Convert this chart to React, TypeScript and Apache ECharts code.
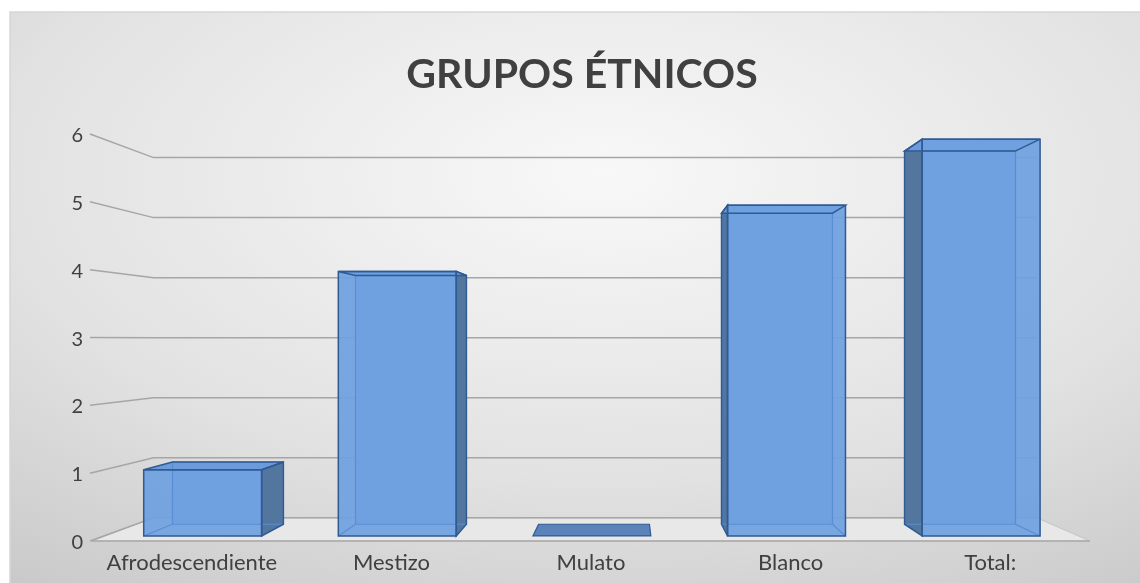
import React, { useEffect, useRef } from "react";
import * as echarts from "echarts";

const categories = ["Afrodescendiente", "Mestizo", "Mulato", "Blanco", "Total:"];
const values = [1, 4, 0, 5, 6];
const yTicks = [0, 1, 2, 3, 4, 5, 6];
const titleText = "GRUPOS ÉTNICOS";

// perspective settings (fractions of the grid)
const VP_X = 0.536;
const VP_Y = 0.504;
const BACK_WALL = 0.885;
const BAR_FRONT = 0.975;
const BAR_BACK = 0.917;
const BAR_HALF = 0.303;

export default function App() {
  const ref = useRef<HTMLDivElement>(null);
  useEffect(() => {
    if (!ref.current) return;
    const chart = echarts.init(ref.current, null, { renderer: "svg" });

    const vp = (cs: any) => [cs.x + VP_X * cs.width, cs.y + VP_Y * cs.height];
    const proj = (v: number[], x: number, y: number, f: number) => [
      v[0] + (x - v[0]) * f,
      v[1] + (y - v[1]) * f,
    ];

    const floorItem = (params: any, api: any) => {
      const cs = params.coordSys;
      const v = vp(cs);
      const y0 = api.coord([0, 0])[1];
      const xl = cs.x;
      const xr = cs.x + cs.width;
      const bl = proj(v, xl, y0, BACK_WALL);
      const br = proj(v, xr, y0, BACK_WALL);
      return {
        type: "group",
        children: [
          {
            type: "polygon",
            shape: { points: [[xl, y0], [xr, y0], br, bl] },
            style: { fill: "#e8e8e8", stroke: "#c4c4c4", lineWidth: 1 },
          },
          {
            type: "line",
            shape: { x1: xl, y1: y0, x2: xr, y2: y0 },
            style: { stroke: "#a8a8a8", lineWidth: 1.5 },
          },
        ],
      };
    };

    const gridItem = (params: any, api: any) => {
      const cs = params.coordSys;
      const v = vp(cs);
      const y = api.coord([0, api.value(1)])[1];
      const xl = cs.x;
      const xr = cs.x + cs.width;
      const bl = proj(v, xl, y, BACK_WALL);
      const br = proj(v, xr, y, BACK_WALL);
      return {
        type: "polyline",
        shape: { points: [[xl - 2, y], bl, br] },
        style: { stroke: "#a6a6a6", lineWidth: 1.5, fill: null },
      };
    };

    const barItem = (params: any, api: any) => {
      const cs = params.coordSys;
      const v = vp(cs);
      const i = api.value(0);
      const val = api.value(1);
      const [cx, y0] = api.coord([i, 0]);
      const y1 = api.coord([i, val])[1];
      const band = api.size([1, 0])[0];
      const half = band * BAR_HALF;
      const xl = cx - half;
      const xr = cx + half;
      const FLB = proj(v, xl, y0, BAR_FRONT);
      const FRB = proj(v, xr, y0, BAR_FRONT);
      const FRT = proj(v, xr, y1, BAR_FRONT);
      const FLT = proj(v, xl, y1, BAR_FRONT);
      const BLB = proj(v, xl, y0, BAR_BACK);
      const BRB = proj(v, xr, y0, BAR_BACK);
      const BRT = proj(v, xr, y1, BAR_BACK);
      const BLT = proj(v, xl, y1, BAR_BACK);
      const leftOfVp = cx < v[0];
      const side = leftOfVp ? [FRB, FRT, BRT, BRB] : [FLB, FLT, BLT, BLB];
      const top = [FLT, FRT, BRT, BLT];
      const front = [FLB, FRB, FRT, FLT];
      const back = [BLB, BRB, BRT, BLT];
      const edge = "#2f5a93";
      const inner = "#5a8ed4";
      const children: any[] = [];
      if (val === 0) {
        children.push({
          type: "polygon",
          shape: { points: [FLB, FRB, BRB, BLB] },
          style: { fill: "#5b83b9", stroke: edge, lineWidth: 1.2 },
        });
        return { type: "group", children };
      }
      children.push(
        { type: "polygon", shape: { points: back }, style: { fill: "#6d9ddd" } },
        { type: "polygon", shape: { points: side }, style: { fill: "#53769f" } },
        { type: "polygon", shape: { points: top }, style: { fill: "#6c9bdb" } },
        { type: "polygon", shape: { points: front }, style: { fill: "#6fa0e0", opacity: 0.93 } },
        // hidden edges seen through the box
        { type: "polygon", shape: { points: back }, style: { fill: null, stroke: inner, lineWidth: 1.2 } },
        {
          type: "line",
          shape: leftOfVp
            ? { x1: FLB[0], y1: FLB[1], x2: BLB[0], y2: BLB[1] }
            : { x1: FRB[0], y1: FRB[1], x2: BRB[0], y2: BRB[1] },
          style: { stroke: inner, lineWidth: 1.2 },
        },
        { type: "polygon", shape: { points: side }, style: { fill: null, stroke: edge, lineWidth: 1.5 } },
        { type: "polygon", shape: { points: top }, style: { fill: null, stroke: edge, lineWidth: 1.5 } },
        { type: "polygon", shape: { points: front }, style: { fill: null, stroke: edge, lineWidth: 1.5 } }
      );
      return { type: "group", children };
    };

    const option: any = {
      animation: false,
      textStyle: { fontFamily: "Lato" },
      graphic: [
        {
          type: "rect",
          z: -10,
          shape: { x: 10, y: 12, width: 1140, height: 580 },
          style: {
            fill: new echarts.graphic.RadialGradient(0.52, 0.28, 0.95, [
              { offset: 0, color: "#f8f8f8" },
              { offset: 0.55, color: "#e2e2e2" },
              { offset: 1, color: "#c4c4c4" },
            ]),
            stroke: "#d6d6d6",
            lineWidth: 1.5,
          },
        },
      ],
      title: {
        text: titleText,
        left: 577,
        top: 47,
        textAlign: "center",
        textStyle: { fontFamily: "Lato", fontSize: 41, fontWeight: "bold", color: "#404040" },
      },
      grid: { left: 92, right: 50, top: 134, bottom: 42 },
      xAxis: {
        type: "category",
        data: categories,
        axisLine: { show: false },
        axisTick: { show: false },
        axisLabel: { interval: 0, fontSize: 22, color: "#404040", margin: 9, fontFamily: "Lato" },
      },
      yAxis: {
        type: "value",
        min: 0,
        max: 6,
        interval: 1,
        axisLine: { show: false },
        axisTick: { show: false },
        splitLine: { show: false },
        axisLabel: { fontSize: 20, color: "#404040", margin: 9, fontFamily: "Lato" },
      },
      series: [
        {
          type: "custom",
          z: 1,
          renderItem: floorItem,
          data: [[0, 0]],
          silent: true,
        },
        {
          type: "custom",
          z: 2,
          renderItem: gridItem,
          data: yTicks.map((t) => [0, t]),
          silent: true,
        },
        {
          type: "custom",
          z: 3,
          renderItem: barItem,
          data: values.map((val, i) => [i, val]),
        },
      ],
    };
    chart.setOption(option);
    return () => chart.dispose();
  }, []);
  return (
    <div
      ref={ref}
      style={{ position: "fixed", left: 0, top: 0, width: 1140, height: 583 }}
    />
  );
}
